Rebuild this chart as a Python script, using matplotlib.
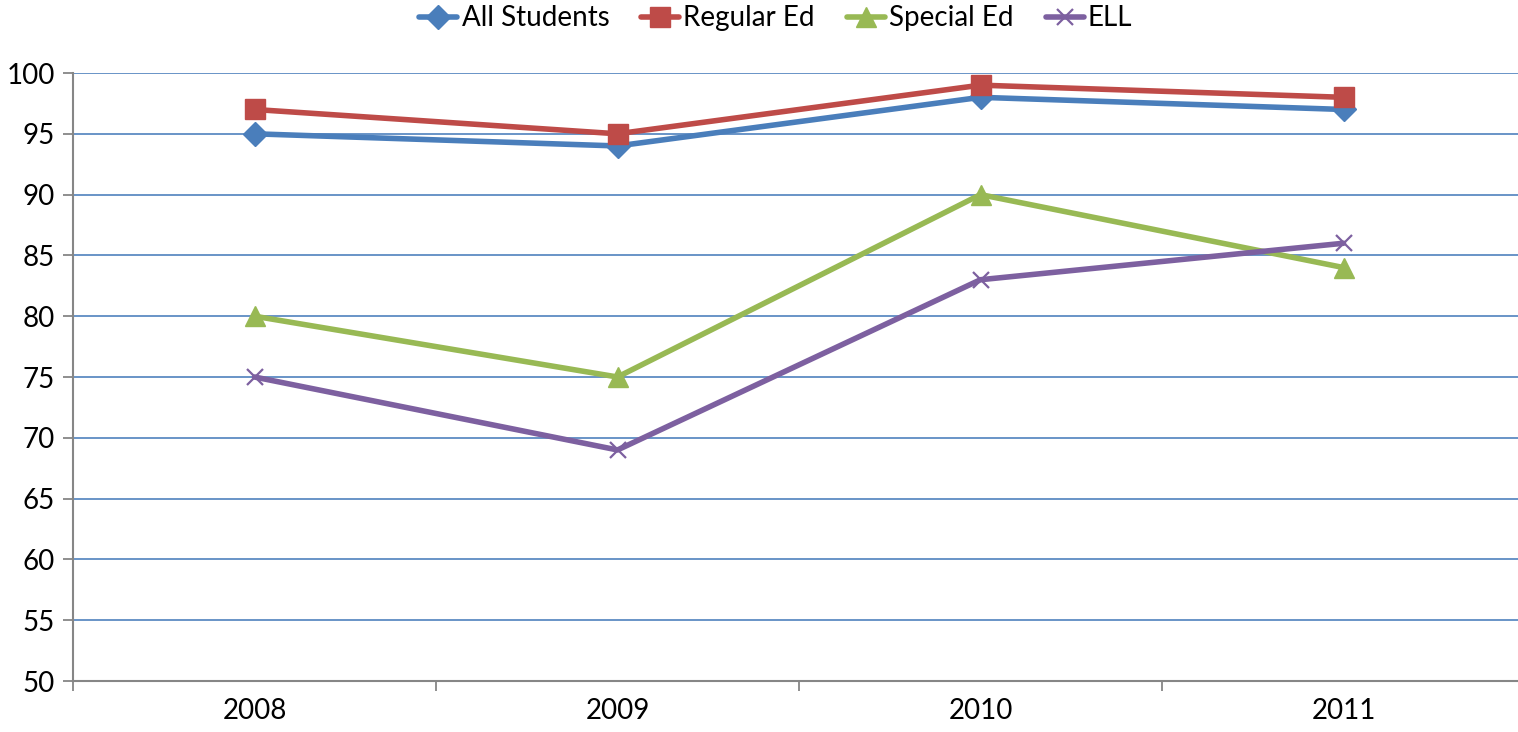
import matplotlib
matplotlib.use("Agg")
import matplotlib.pyplot as plt

# ── Data ─────────────────────────────────────────────────────────────────────
years = ["2008", "2009", "2010", "2011"]
all_students = [95, 94, 98, 97]
regular_ed = [97, 95, 99, 98]
special_ed = [80, 75, 90, 84]
ell = [75, 69, 83, 86]

plt.rcParams["font.family"] = ["Lato", "DejaVu Sans"]

fig = plt.figure(figsize=(15.18, 7.32), dpi=100)
ax = fig.add_axes([73 / 1518, 51 / 732, 1452 / 1518, 608 / 732])

x = range(len(years))
series = [
    ("All Students", all_students, "#4A7EBB", "D", 12, 0),
    ("Regular Ed", regular_ed, "#BE4B48", "s", 14, 0),
    ("Special Ed", special_ed, "#98B954", "^", 14, 0),
    ("ELL", ell, "#7D60A0", "x", 12, 1.6),
]
for name, vals, col, mk, ms, mew in series:
    kw = dict(markeredgewidth=mew) if mk == "x" else dict(markeredgecolor=col)
    ax.plot(x, vals, color=col, lw=4, marker=mk, ms=ms, label=name,
            solid_capstyle="round", **kw)

ax.set_xlim(-0.5, 3.5)
ax.set_ylim(50, 100)
ax.set_yticks(range(50, 101, 5))
ax.set_xticks([i - 0.5 for i in range(5)], minor=False)
ax.set_xticklabels([])
ax.set_xticks(list(x), minor=True)
ax.set_xticklabels(years, minor=True)
ax.tick_params(axis="x", which="major", length=7, color="#868686", width=1.3)
ax.tick_params(axis="x", which="minor", length=0, pad=12, labelsize=20)
ax.tick_params(axis="y", length=7, color="#868686", width=1.3, labelsize=20, pad=6)

ax.grid(axis="y", color="#4F81BD", lw=1.2)
ax.set_axisbelow(True)
for side in ("top", "right"):
    ax.spines[side].set_visible(False)
for side in ("left", "bottom"):
    ax.spines[side].set_color("#868686")
    ax.spines[side].set_linewidth(1.5)

ax.legend(loc="center", bbox_to_anchor=(0.484, 1.09),
          ncol=4, frameon=False, fontsize=20, handlelength=1.37,
          handletextpad=0.15, columnspacing=1.15)

fig.savefig("out.png", dpi=100)
